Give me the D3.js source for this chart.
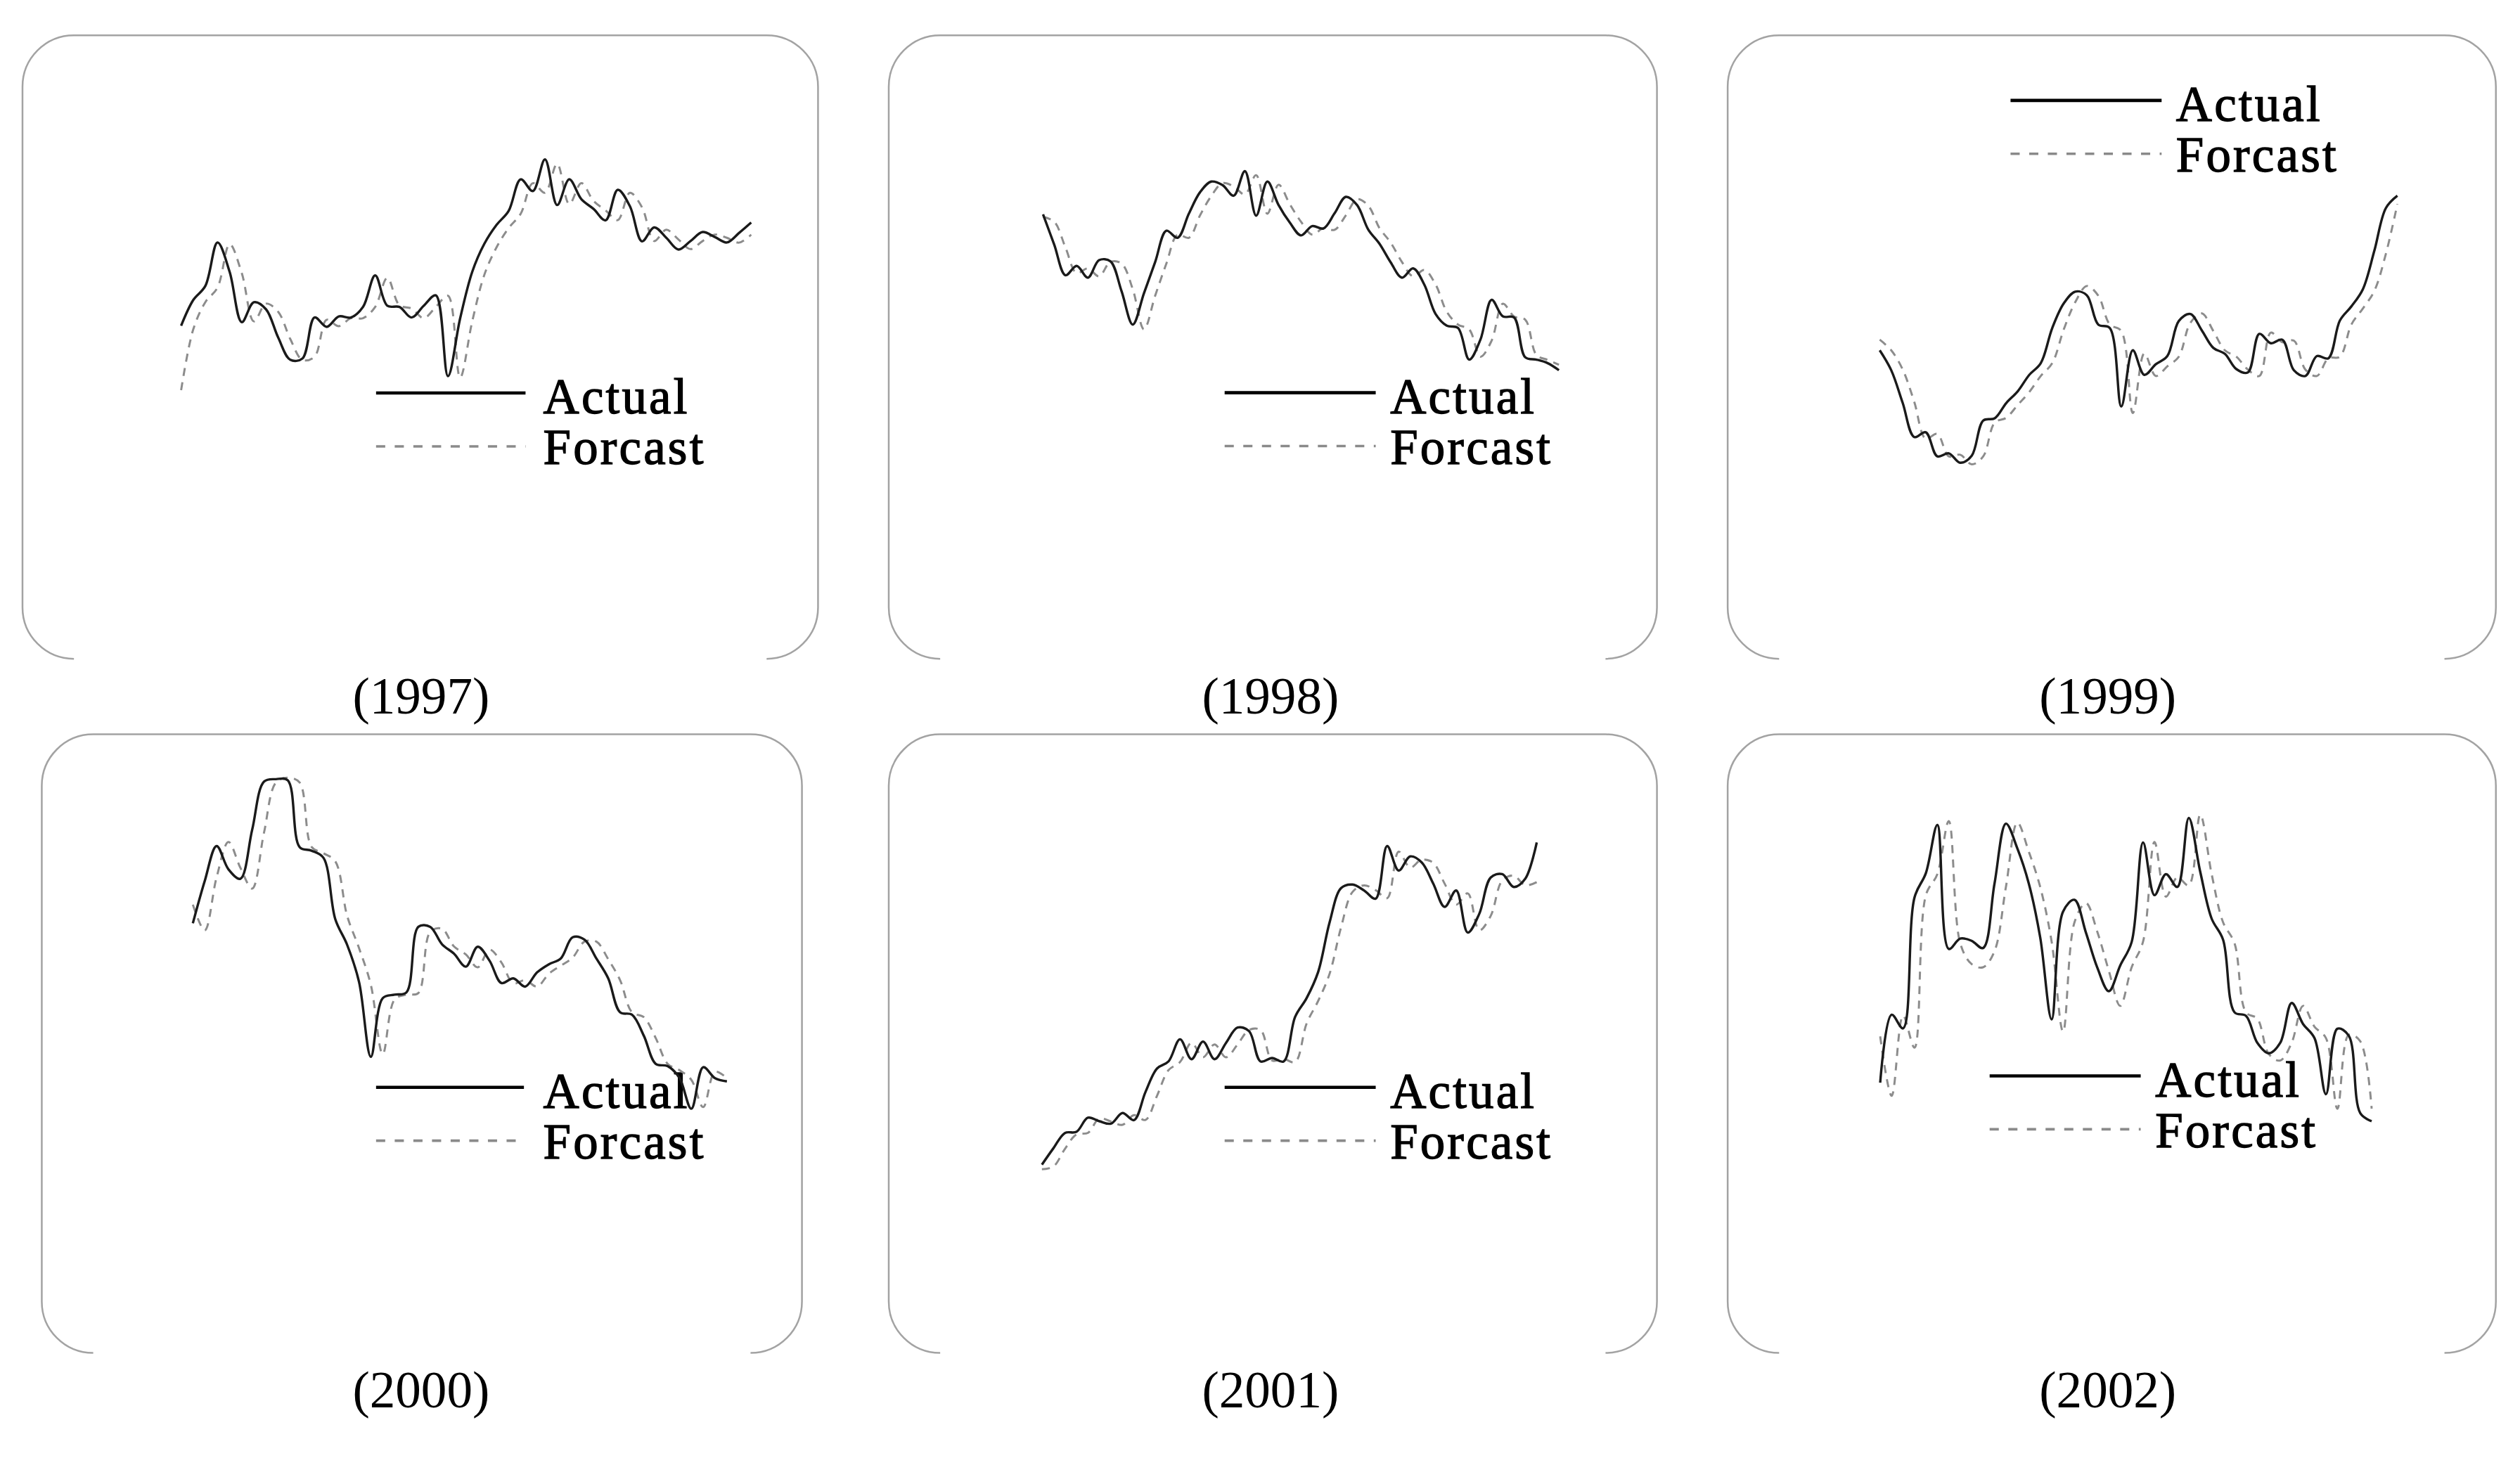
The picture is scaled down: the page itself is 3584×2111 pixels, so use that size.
<!DOCTYPE html>
<html>
<head>
<meta charset="utf-8">
<script src="https://cdn.jsdelivr.net/npm/d3@7"></script>
<style>
  body { margin: 0; background: #fff; }
  svg { display: block; }
</style>
</head>
<body>
<script>
// weekly series, one pair per year (height units above the panel floor)
const yearLabels = ["(1997)", "(1998)", "(1999)", "(2000)", "(2001)", "(2002)"];
const legendLabels = ["Actual", "Forcast"];

const actual1997 = [207.3, 223.3, 232.1, 259.1, 240.8, 209.5, 221.9, 217.5, 200, 186.1, 186.9, 212.4, 206.6, 213.1, 212.4, 219, 238.6, 219.7, 219, 212.4, 219.7, 226.2, 175.9, 211.7, 240.8, 258.3, 270, 278.7, 298.4, 291.1, 310.8, 282.4, 298.4, 286, 280, 272.9, 291.9, 281.7, 259.8, 268.5, 262, 254.7, 260, 265.6, 262.5, 259.1, 265, 271.5];
const forecast1997 = [167.2, 205, 222, 231, 258, 240, 210, 221, 216, 199, 186, 188, 211, 207, 212, 212, 219, 237, 220, 218, 212, 219, 226, 175, 210, 239, 256, 268, 277, 296, 290, 308, 283, 296, 285, 279, 273, 290, 281, 260, 267, 261, 255, 260, 264, 262, 259, 264];

const actual1998 = [276.6, 257.7, 238.7, 244.5, 237.2, 248.1, 247.4, 228.8, 208, 227.5, 247, 266.4, 262, 277, 290.4, 297, 294.8, 288.2, 303.5, 275.8, 297, 282.4, 271.5, 263.5, 269.3, 267.8, 277.3, 287.5, 282.4, 267.1, 258.3, 246.7, 237.2, 243, 232.8, 214.6, 207.3, 205.9, 186.2, 198.6, 223.4, 213.1, 212.4, 187.6, 186.2, 184, 179.6];
const forecast1998 = [275, 272, 256, 240, 243, 238, 247, 246, 230, 205, 226, 246, 264, 262, 276, 288, 296, 294, 289, 301, 277, 295, 283, 272, 264, 268, 267, 276, 286, 282, 268, 259, 247, 238, 242, 233, 216, 208, 205, 188, 198, 221, 213, 211, 189, 186, 183];

const actual1999 = [192, 179.6, 159.2, 138, 141, 126, 127.9, 122, 126.4, 148.3, 149.7, 159.2, 166.5, 176.7, 184, 205.9, 221.2, 228.5, 226.3, 208, 205.9, 157, 192, 176.7, 183.3, 188.4, 210.2, 214.6, 204.4, 193.5, 189.8, 180.3, 178.2, 202.2, 196.4, 198.6, 179.6, 176, 188.4, 187, 210.5, 219.3, 230, 254, 280.5, 288.2];
const forecast1999 = [198.6, 192, 180, 160, 137, 140, 126, 127, 121, 126, 147, 150, 158, 166, 176, 184, 205, 222, 232, 226, 208, 204, 153, 190, 176, 182, 188, 209, 215, 204, 192, 188, 180, 176, 203, 197, 198, 180, 176, 187, 188, 208, 218, 229, 252, 283];

const actual2000 = [267.4, 293.7, 315.5, 301, 295.1, 325.7, 355.6, 357.1, 356.4, 314.8, 312.6, 308.2, 270, 254, 231, 184.3, 220.8, 223, 224.4, 265.2, 265.2, 254.3, 248.5, 240.4, 252.8, 244.1, 230.2, 233.1, 228, 236.8, 241.9, 245.5, 258.7, 257.2, 245.5, 233.1, 212, 210.5, 197.4, 179.9, 178.5, 171.2, 152, 177.8, 171, 169];
const forecast2000 = [279, 263, 296, 318, 302, 289, 324, 355, 358, 355, 315, 311, 306, 272, 252, 229, 186, 220, 223, 224, 262, 264, 253, 248, 240, 251, 243, 230, 232, 228, 236, 241, 246, 256, 256, 245, 232, 212, 209, 196, 180, 176, 170, 153, 175, 171];

const actual2001 = [117.2, 127.4, 136.9, 137.6, 146.4, 144.2, 142.7, 149.3, 144.9, 162.4, 177, 181.4, 195.2, 182.8, 193.8, 182.8, 193, 202.5, 200.3, 181.4, 183.6, 181.4, 209.1, 220.8, 237, 268, 289.3, 291.5, 287.8, 282.7, 315.5, 300.2, 309, 305.3, 292.2, 277.6, 287.8, 261.6, 273.2, 295.9, 298, 290, 295.1, 317.7];
const forecast2001 = [114.3, 116, 127, 136, 137, 146, 144, 142, 148, 145, 160, 176, 181, 193, 184, 192, 184, 192, 201, 201, 182, 183, 181, 205, 219, 236, 265, 287, 291, 288, 283, 312, 302, 307, 305, 292, 279, 286, 263, 272, 294, 297, 291, 293];

const actual2002 = [168.2, 210.5, 202, 283.4, 298.7, 328.6, 251.4, 257.9, 256.5, 252, 292, 329.4, 314, 292.2, 258.6, 207.6, 274.7, 282, 261.6, 239.7, 225.1, 241.1, 255.7, 317.7, 284.9, 298, 290, 333, 299.5, 270.3, 257.2, 212, 209.8, 193, 186.5, 193, 217.8, 204.7, 195.9, 161, 201.8, 197.4, 149.3, 144.2];
const forecast2002 = [197, 160, 210, 190, 285, 298, 331, 255, 242, 240, 250, 290, 330, 312, 290, 256, 200, 268, 280, 262, 238, 216, 240, 256, 318, 284, 296, 291, 335, 298, 268, 255, 212, 208, 186, 182, 193, 216, 203, 196, 152, 198, 194, 152];

const width = 3584, height = 2111;
const vw = 1568, vh = height * vw / width;   // work in the 1568-wide frame

// panel layout: box [x0, y0, x1, y1], x span of the series, legend, label
const panels = [
  { actual: actual1997, forecast: forecast1997, box: [14, 22, 509, 410],  span: [112.7, 467.4],   legend: [234, 327, 244.6, 338],   label: [262, 444] },
  { actual: actual1998, forecast: forecast1998, box: [553, 22, 1031, 410], span: [649, 970],      legend: [762, 856, 244.4, 865],   label: [790.5, 444] },
  { actual: actual1999, forecast: forecast1999, box: [1075, 22, 1553, 410], span: [1169.6, 1491.7], legend: [1251, 1345, 62.5, 1354], label: [1311.5, 444] },
  { actual: actual2000, forecast: forecast2000, box: [26, 457, 499, 842],  span: [120, 452.3],     legend: [234, 326, 676.7, 338],   label: [262, 876] },
  { actual: actual2001, forecast: forecast2001, box: [553, 457, 1031, 842], span: [648.3, 956.2],  legend: [762, 856, 676.7, 865],   label: [790.5, 876] },
  { actual: actual2002, forecast: forecast2002, box: [1075, 457, 1553, 842], span: [1169.9, 1475.7], legend: [1238, 1332, 669.6, 1341], label: [1311.5, 876] }
];

const svg = d3.select("body").append("svg")
  .attr("width", width)
  .attr("height", height)
  .attr("viewBox", [0, 0, vw, vh].join(" "));

svg.append("rect").attr("width", vw).attr("height", vh).attr("fill", "#fff");

const r = 32;

panels.forEach((p, k) => {
  const [x0, y0, x1, y1] = p.box;
  const g = svg.append("g");

  // frame: top edge, sides and the two lower corners (no bottom rule)
  const frame = d3.path();
  frame.moveTo(x0 + r, y1);
  frame.arcTo(x0, y1, x0, y1 - r, r);
  frame.lineTo(x0, y0 + r);
  frame.arcTo(x0, y0, x0 + r, y0, r);
  frame.lineTo(x1 - r, y0);
  frame.arcTo(x1, y0, x1, y0 + r, r);
  frame.lineTo(x1, y1 - r);
  frame.arcTo(x1, y1, x1 - r, y1, r);
  g.append("path")
    .attr("d", frame.toString())
    .attr("fill", "none")
    .attr("stroke", "#a3a3a3")
    .attr("stroke-width", 1.1);

  let xScale = d3.scaleLinear()
    .domain([0, p.actual.length - 1])
    .range(p.span);
  let yScale = d3.scaleLinear()
    .domain([0, 400])
    .range([y1, y1 - 400]);

  let line = d3.line()
    .x((d, i) => xScale(i))
    .y(d => yScale(d))
    .curve(d3.curveCatmullRom.alpha(0.5));

  // legend
  const [lx0, lx1, ly, tx] = p.legend;
  g.append("line")
    .attr("x1", lx0).attr("x2", lx1)
    .attr("y1", ly).attr("y2", ly)
    .attr("stroke", "#000").attr("stroke-width", 2);
  g.append("line")
    .attr("x1", lx0).attr("x2", lx1)
    .attr("y1", ly + 33.2).attr("y2", ly + 33.2)
    .attr("stroke", "#8a8a8a").attr("stroke-width", 1.6)
    .attr("stroke-dasharray", "5.7,5.9");
  legendLabels.forEach((t, j) => {
    g.append("text")
      .attr("x", tx)
      .attr("y", ly + 12.8 + j * 31.5)
      .attr("font-family", "'Liberation Serif', 'Times New Roman', serif")
      .attr("font-size", 31)
      .attr("letter-spacing", 1.4)
      .attr("fill", "#000")
      .attr("stroke", "#000")
      .attr("stroke-width", 0.6)
      .text(t);
  });

  // forecast under, actual on top
  g.append("path")
    .attr("d", line(p.forecast))
    .attr("fill", "none")
    .attr("stroke", "#8c8c8c")
    .attr("stroke-width", 1.3)
    .attr("stroke-dasharray", "5,4");
  g.append("path")
    .attr("d", line(p.actual))
    .attr("fill", "none")
    .attr("stroke", "#1a1a1a")
    .attr("stroke-width", 1.5)
    .attr("stroke-linejoin", "round");

  // year caption
  svg.append("text")
    .attr("x", p.label[0])
    .attr("y", p.label[1])
    .attr("text-anchor", "middle")
    .attr("font-family", "'Liberation Serif', 'Times New Roman', serif")
    .attr("font-size", 32)
    .attr("fill", "#000")
    .text(yearLabels[k]);
});
</script>
</body>
</html>
